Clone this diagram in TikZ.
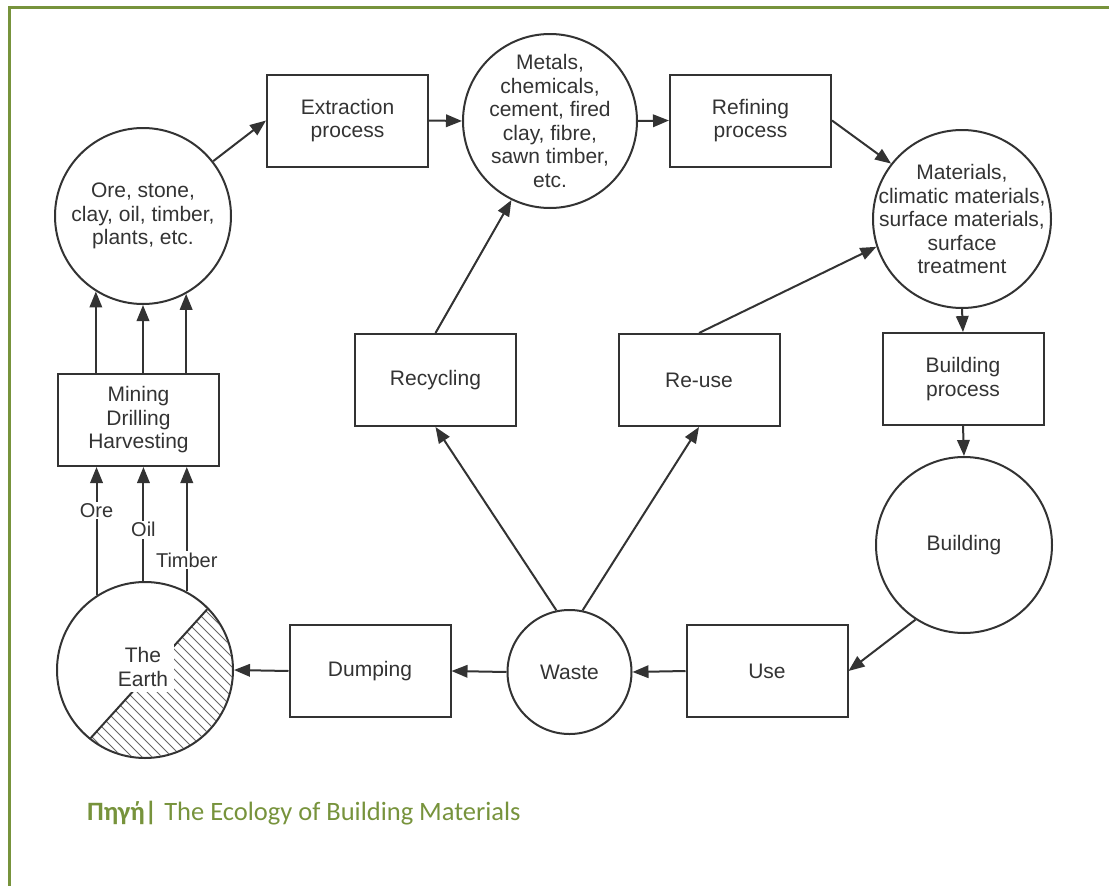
\documentclass[tikz,border=0pt]{standalone}
\usepackage{fontspec}
\setmainfont{Liberation Sans}
\newfontfamily\capfont{Carlito}
\usetikzlibrary{arrows.meta,backgrounds}
\definecolor{olive}{HTML}{77933C}
\definecolor{ink}{HTML}{333333}

\begin{document}
\begin{tikzpicture}[x=1pt,y=-1pt,
  every node/.style={font=\fontsize{21}{23.5}\selectfont, text=ink},
  box/.style={draw=ink, line width=2pt, minimum width=161pt, minimum height=92pt,
    inner sep=0pt, align=center},
  orb/.style={draw=ink, line width=2pt, circle, minimum size=#1, inner sep=0pt},
  inside/.style={align=center, inner sep=0pt},
  flow/.style={draw=ink, line width=2pt, -{Triangle[length=16pt,width=12.5pt]}},
  tag/.style={fill=white, inner sep=1.5pt, font=\fontsize{20}{22}\selectfont},
  hatch/.style={draw=ink!75, line width=0.8pt}
]
\useasboundingbox (0,0) rectangle (1109,886);

% frame
\draw[olive, line width=3pt, line join=miter] (1115,7) -- (9,7) -- (9,892);

% stages of the material cycle
\node[orb=176pt, label={[inside]center:{Ore, stone,\\clay, oil, timber,\\plants, etc.}}] (ore) at (143,216) {};
\node[box] (extract) at (347.5,120.5) {Extraction\\process};
\node[orb=174pt, label={[inside]center:{Metals,\\chemicals,\\cement, fired\\clay, fibre,\\sawn timber,\\etc.}}] (metals) at (550,121) {};
\node[box] (refine) at (750.5,120.5) {Refining\\process};
\node[orb=178pt, label={[inside]center:{Materials,\\climatic materials,\\surface materials,\\surface\\treatment}}] (mats) at (962,219) {};
\node[box] (bproc) at (963,379) {Building\\process};
\node[orb=176pt] (bldg) at (964,545) {Building};
\node[box] (use) at (767,671) {Use};
\node[orb=124pt] (waste) at (569.5,672) {Waste};
\node[box] (dump) at (370,671) {Dumping};
\node[orb=176pt] (earth) at (145,670) {};
\node[inside, fill=white, inner sep=6pt] (earthtxt) at (143,667) {The\\Earth};
\node[box] (mining) at (138.5,420) {Mining\\Drilling\\Harvesting};
\node[box] (recyc) at (435.5,380) {Recycling};
\node[box] (reuse) at (699,380) {Re-use};

% hatched part of the Earth
\begin{scope}[on background layer]
  \begin{scope}
    \clip (earth.center) circle[radius=87pt];
    \clip (240,573) -- (60,772) -- (260,800) -- (260,573) -- cycle;
    \foreach \c in {-745,-735,...,-295}
      \draw[hatch] ({\c+560},560) -- ({\c+810},810);
  \end{scope}
  \begin{scope}
    \clip (earth.center) circle[radius=87pt];
    \draw[ink, line width=2pt] (240,573) -- (60,772);
  \end{scope}
\end{scope}

% main cycle
\draw[flow] (ore.38) -- (extract.west);
\draw[flow] (extract.east) -- (metals.west);
\draw[flow] (metals.east) -- (refine.west);
\draw[flow] (refine.east) -- (mats.142);
\draw[flow] (mats.south) -- (bproc.north);
\draw[flow] (bproc.south) -- (bldg.north);
\draw[flow] (bldg.237) -- (use.east);
\draw[flow] (use.west) -- (waste.east);
\draw[flow] (waste.west) -- (dump.east);
\draw[flow] (dump.west) -- (earth.east);

% recovery paths
\draw[flow] (waste.102) -- (recyc.south);
\draw[flow] (waste.78) -- (reuse.south);
\draw[flow] (recyc.north) -- (metals.244);
\draw[flow] (reuse.north) -- (mats.198);

% from the Earth to the raw materials
\draw[flow] (earth.123) -- (earth.123 |- mining.south) node[tag, pos=0.66] (oreL) {Ore};
\draw[flow] (earth.91) -- (earth.91 |- mining.south) node[tag, pos=0.45] (oilL) {Oil};
\draw[flow] (earth.62) -- (earth.62 |- mining.south) node[tag, pos=0.25] (timberL) {Timber};
\draw[flow] (ore.238 |- mining.north) -- (ore.238);
\draw[flow] (mining.north -| ore.south) -- (ore.south);
\draw[flow] (ore.299 |- mining.north) -- (ore.299);

% source line
\node[anchor=base west, inner sep=0pt, text=olive,
  font=\capfont\fontsize{26.5}{30}\selectfont] (source) at (87,820)
  {\textbf{Πηγή|}\hspace{7pt}The Ecology of Building Materials};
\end{tikzpicture}
\end{document}
